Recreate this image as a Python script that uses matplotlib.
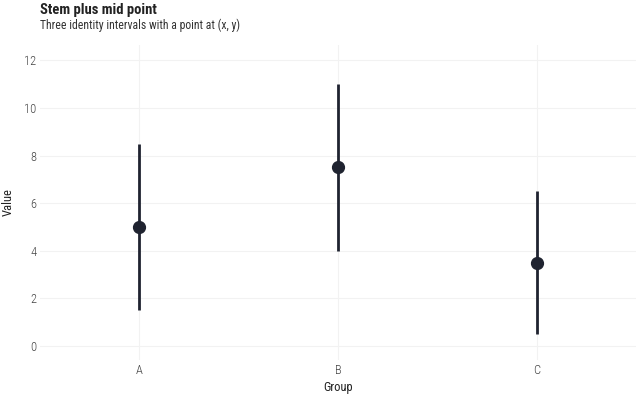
import matplotlib
matplotlib.use('Agg')
import matplotlib.pyplot as plt

# Data
groups = ['A', 'B', 'C']
y_mid = [5.0, 7.5, 3.5]
y_low = [1.5, 4.0, 0.5]
y_high = [8.5, 11.0, 6.5]

plt.rcParams['font.family'] = ['Roboto Condensed', 'Roboto', 'DejaVu Sans']

dark = '#1f2330'
fig = plt.figure(figsize=(6.4, 4), dpi=100)
# axes box in pixels: left 40, right 636, top 45, bottom 360
ax = fig.add_axes([40/640, 40/400, 596/640, 315/400])

x = list(range(1, len(groups) + 1))
ax.vlines(x, y_low, y_high, color=dark, linewidth=2.0, zorder=3)
ax.plot(x, y_mid, 'o', color=dark, markersize=8.5, zorder=4)

ax.set_xlim(0.5, 3.5)
ax.set_ylim(-0.6, 12.65)
ax.set_xticks(x)
ax.set_xticklabels(groups)
ax.set_yticks([0, 2, 4, 6, 8, 10, 12])

for s in ax.spines.values():
    s.set_visible(False)
ax.grid(True, color='#f2f2f2', linewidth=0.8)
ax.set_axisbelow(True)
ax.tick_params(length=0, labelsize=9, colors='#444444')
ax.tick_params(axis='y', pad=2.5)
ax.tick_params(axis='x', pad=3)
for lab in ax.get_xticklabels() + ax.get_yticklabels():
    lab.set_fontweight('light')

ax.set_xlabel('Group', fontsize=9, color='#222222')
ax.set_ylabel('Value', fontsize=9, color='#222222')
# put axis titles where the reference has them
ax.xaxis.set_label_coords(0.5, -(388 - 360) / 315, transform=ax.transAxes)
ax.yaxis.set_label_coords(-(40 - 8) / 596, 0.5, transform=ax.transAxes)
ax.xaxis.label.set_va('center')
ax.yaxis.label.set_va('center')

fig.text(40/640, 1 - 10/400, 'Stem plus mid point', fontsize=10.5, fontweight='bold',
         color='#222222', va='center')
fig.text(40/640, 1 - 25/400, 'Three identity intervals with a point at (x, y)', fontsize=8.5,
         color='#333333', va='center')

fig.savefig('out.png', dpi=100)
